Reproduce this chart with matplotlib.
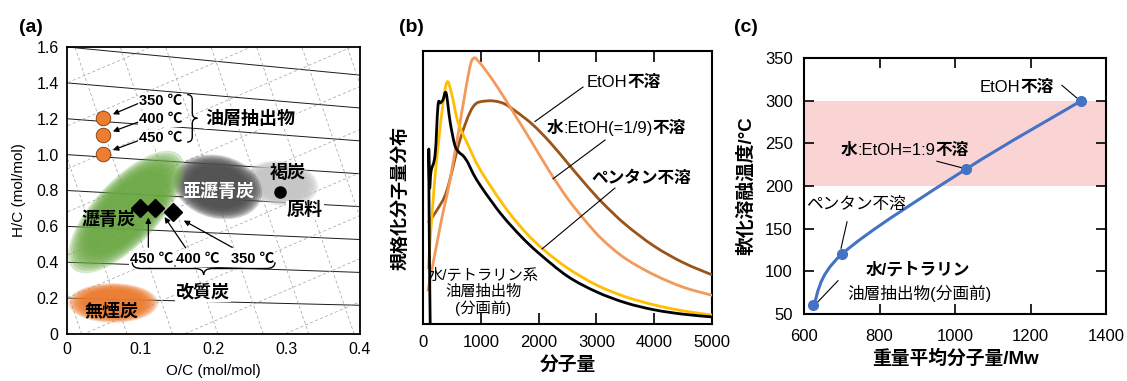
import numpy as np
import matplotlib
matplotlib.use("Agg")
import matplotlib.pyplot as plt
import matplotlib.transforms as mtransforms
from matplotlib.patches import Ellipse, PathPatch
from matplotlib.path import Path
from matplotlib.offsetbox import TextArea, HPacker, AnnotationBbox

plt.rcParams['font.family'] = ['Liberation Sans', 'Noto Sans CJK JP', 'DejaVu Sans']
plt.rcParams['axes.unicode_minus'] = False

# ---------------- data (a) : H/C vs O/C
oil_oc = [0.049, 0.049, 0.049]
oil_hc = [1.204, 1.109, 1.005]
oil_temps = ['350 ℃', '400 ℃', '450 ℃']
upg_oc = [0.145, 0.120, 0.100]
upg_hc = [0.680, 0.705, 0.705]
upg_temps = ['350 ℃', '400 ℃', '450 ℃']
raw_oc = [0.291]
raw_hc = [0.790]
# coal regions: centre O/C, centre H/C, width, height, angle
coal_names = ['褐炭', '亜瀝青炭', '瀝青炭', '無煙炭']
coal_oc = [0.293, 0.206, 0.081, 0.063]
coal_hc = [0.840, 0.820, 0.680, 0.173]
coal_w = [0.41, 0.50, 0.87, 0.50]
coal_h = [0.25, 0.35, 0.36, 0.22]
coal_ang = [-8, -14, 47, 0]
coal_col = ['#c4c4c4', '#4d4d4d', '#6aa843', '#ec7a2e']
hv_levels = [0.2, 0.4, 0.6, 0.8, 1.0, 1.2, 1.4, 1.6, 1.8, 2.0]

# ---------------- data (b) : molecular weight distribution
mw_orig = [125, 110, 100, 115, 140, 210, 260, 300, 345, 400, 470, 550, 620, 700,
           780, 870, 1000, 1200, 1400, 1700, 2000, 2500, 3000, 3500, 4000, 4500, 5000]
dist_orig = [0.0, 0.30, 0.64, 0.50, 0.56, 0.62, 0.80, 0.81, 0.82, 0.846, 0.74, 0.656,
             0.63, 0.615, 0.59, 0.55, 0.505, 0.445, 0.39, 0.32, 0.26, 0.175, 0.118,
             0.078, 0.052, 0.036, 0.026]
mw_pent = [90, 200, 330, 415, 500, 605, 780, 950, 1200, 1500, 1800, 2100, 2500,
           3000, 3500, 4000, 4500, 5000]
dist_pent = [0.20, 0.52, 0.78, 0.886, 0.84, 0.74, 0.656, 0.58, 0.495, 0.405, 0.33,
             0.27, 0.205, 0.143, 0.10, 0.07, 0.048, 0.033]
mw_we = [85, 300, 470, 675, 810, 880, 950, 1100, 1300, 1600, 1900, 2200, 2500, 2800,
         3100, 3500, 4000, 4500, 5000]
dist_we = [0.12, 0.36, 0.53, 0.78, 0.94, 0.974, 0.965, 0.925, 0.864, 0.763, 0.66,
           0.555, 0.46, 0.38, 0.31, 0.24, 0.18, 0.135, 0.105]
mw_etoh = [90, 250, 415, 640, 865, 1100, 1370, 1600, 1900, 2200, 2500, 2800, 3100,
           3500, 4000, 4500, 5000]
dist_etoh = [0.37, 0.42, 0.49, 0.674, 0.795, 0.817, 0.81, 0.78, 0.73, 0.665, 0.59,
             0.515, 0.445, 0.365, 0.285, 0.225, 0.18]

# ---------------- data (c) : softening temperature vs Mw
mw_avg = [625, 700, 1030, 1335]
soft_temp = [60, 120, 220, 300]
temp_band = [200, 300]


def smooth_path(xs, ys):
    # catmull-rom through the points, drawn as bezier segments
    p = np.column_stack([xs, ys]).astype(float)
    pp = np.vstack([p[0], p, p[-1]])
    verts = [p[0]]
    codes = [Path.MOVETO]
    for i in range(1, len(pp) - 2):
        c1 = pp[i] + (pp[i + 1] - pp[i - 1]) / 6.0
        c2 = pp[i + 1] - (pp[i + 2] - pp[i]) / 6.0
        verts += [c1, c2, pp[i + 1]]
        codes += [Path.CURVE4] * 3
    return Path(verts, codes)


def brace(ax, a0, a1, b, depth, e, vertical=False, lw=1.0):
    m = 0.5 * (a0 + a1)
    h = b + depth / 2.0
    pts = [(a0, b), (a0, h), (a0 + e, h), (m - e, h), (m, h), (m, b + depth),
           (m, h), (m + e, h), (a1 - e, h), (a1, h), (a1, b)]
    codes = [Path.MOVETO, Path.CURVE3, Path.CURVE3, Path.LINETO, Path.CURVE3,
             Path.CURVE3, Path.CURVE3, Path.CURVE3, Path.LINETO, Path.CURVE3, Path.CURVE3]
    if vertical:
        pts = [(q, r) for r, q in pts]
    ax.add_patch(PathPatch(Path(pts, codes), fill=False, lw=lw, color='black', zorder=6))


def mixed(ax, x, y, parts, size):
    kids = [TextArea(s, textprops=dict(fontsize=size, fontweight=w)) for s, w in parts]
    box = HPacker(children=kids, align='baseline', pad=0, sep=0)
    ab = AnnotationBbox(box, (x, y), xycoords='data', frameon=False, pad=0,
                        box_alignment=(0.5, 0.5), zorder=6)
    ax.add_artist(ab)


fig = plt.figure(figsize=(11.27, 3.81), dpi=100)
ax_a = fig.add_axes([0.0595, 0.1234, 0.2599, 0.7532])
ax_b = fig.add_axes([0.3753, 0.1496, 0.2565, 0.7165])
ax_c = fig.add_axes([0.7134, 0.1759, 0.2680, 0.6719])

# ================= (a)
ax_a.set_xlim(0, 0.4)
ax_a.set_ylim(0, 1.6)
k = (0.2599 * 1127 / 0.4) / (0.7532 * 381 / 1.6)
ocl = np.array([-0.2, 0.6])
for c in hv_levels:
    slope = (c + 0.28) / 4.8
    ax_a.plot(ocl, c - slope * ocl, color='#1a1a1a', lw=0.7, zorder=1)
for c in np.arange(-1.0, 1.7, 0.24):
    ax_a.plot(ocl, c + 1.75 * ocl, color='#a8a8a8', lw=0.55, ls=(0, (4, 3)), zorder=1)
hcl = np.array([0.0, 1.6])
for c in np.arange(0.02, 0.62, 0.062):
    ax_a.plot(c - hcl / 12.0, hcl, color='#a8a8a8', lw=0.55, ls=(0, (4, 3)), zorder=1)

tr = mtransforms.Affine2D().scale(1.0 / k, 1.0) + ax_a.transData
for i in range(len(coal_names)):
    for j in range(9):
        s = 1.0 - 0.38 * j / 9
        ax_a.add_patch(Ellipse((coal_oc[i] * k, coal_hc[i]), coal_w[i] * s, coal_h[i] * s,
                               angle=coal_ang[i], facecolor=coal_col[i], edgecolor='none',
                               alpha=0.28, transform=tr, zorder=2 + 0.1 * i))

ax_a.plot(oil_oc, oil_hc, 'o', ms=10.5, color='#ed7d31', mec='#7a3a10', mew=0.6, zorder=7)
ax_a.plot(upg_oc, upg_hc, 'D', ms=9, color='black', zorder=7)
ax_a.plot(raw_oc, raw_hc, 'o', ms=8, color='black', zorder=7)

wb = dict(facecolor='white', edgecolor='none', pad=0.6)
for i, t in enumerate(oil_temps):
    ty = [1.300, 1.196, 1.092][i]
    ax_a.text(0.128, ty, t, fontsize=10.5, fontweight='bold', ha='center', va='center',
              bbox=wb, zorder=6)
    ax_a.annotate('', xy=(oil_oc[i] + 0.010, oil_hc[i] + 0.015), xytext=(0.1, ty - 0.01),
                  arrowprops=dict(arrowstyle='-|>', lw=0.9, color='black', mutation_scale=8),
                  zorder=6)
brace(ax_a, 1.07, 1.335, 0.164, 0.014, 0.03, vertical=True)
ax_a.text(0.25, 1.195, '油層抽出物', fontsize=13, fontweight='bold', ha='center', va='center',
          bbox=wb, zorder=6)

for i, (t, tx) in enumerate(zip(upg_temps, [0.253, 0.179, 0.115])):
    ax_a.text(tx, 0.42, t, fontsize=10.5, fontweight='bold', ha='center', va='center',
              bbox=wb, zorder=6)
starts = [(0.229, 0.475), (0.164, 0.468), (0.111, 0.468)]
for i in range(3):
    ax_a.annotate('', xy=(upg_oc[i] + 0.011, upg_hc[i] - 0.04), xytext=starts[i],
                  arrowprops=dict(arrowstyle='-|>', lw=0.9, color='black', mutation_scale=8),
                  zorder=6)
brace(ax_a, 0.089, 0.284, 0.40, -0.07, 0.012)
ax_a.text(0.186, 0.228, '改質炭', fontsize=13, fontweight='bold', ha='center', va='center',
          bbox=wb, zorder=6)
ax_a.text(0.056, 0.635, '瀝青炭', fontsize=13, fontweight='bold', ha='center', va='center', zorder=6)
ax_a.text(0.061, 0.123, '無煙炭', fontsize=13, fontweight='bold', ha='center', va='center', zorder=6)
ax_a.text(0.206, 0.79, '亜瀝青炭', fontsize=13, fontweight='bold', color='white',
          ha='center', va='center', zorder=6)
ax_a.text(0.302, 0.897, '褐炭', fontsize=13, fontweight='bold', ha='center', va='center', zorder=6)
ax_a.text(0.325, 0.69, '原料', fontsize=13, fontweight='bold', ha='center', va='center',
          bbox=wb, zorder=6)

ax_a.set_xticks([0, 0.1, 0.2, 0.3, 0.4])
ax_a.set_xticklabels(['0', '0.1', '0.2', '0.3', '0.4'])
ax_a.set_yticks([0, 0.2, 0.4, 0.6, 0.8, 1.0, 1.2, 1.4, 1.6])
ax_a.set_yticklabels(['0', '0.2', '0.4', '0.6', '0.8', '1.0', '1.2', '1.4', '1.6'])
ax_a.tick_params(length=0, labelsize=11.5, pad=6)
ax_a.set_xlabel('O/C (mol/mol)', fontsize=11)
ax_a.xaxis.set_label_coords(0.5, -0.105)
ax_a.set_ylabel('H/C (mol/mol)', fontsize=11)
ax_a.yaxis.set_label_coords(-0.14, 0.5)
for sp in ax_a.spines.values():
    sp.set_linewidth(1.3)
    sp.set_zorder(8)

# ================= (b)
ax_b.set_xlim(0, 5000)
ax_b.set_ylim(0, 1.0)
curves = [(mw_etoh, dist_etoh, '#9a5418'), (mw_we, dist_we, '#f29a5c'),
          (mw_pent, dist_pent, '#ffbf00'), (mw_orig, dist_orig, 'black')]
for xs, ys, col in curves:
    ax_b.add_patch(PathPatch(smooth_path(xs, ys), fill=False, lw=2.0, color=col,
                             joinstyle='round', zorder=3))
ax_b.plot([2768, 1938], [0.868, 0.742], color='black', lw=0.8, zorder=4)
ax_b.plot([3150, 2250], [0.674, 0.532], color='black', lw=0.8, zorder=4)
ax_b.plot([3320, 2060], [0.498, 0.275], color='black', lw=0.8, zorder=4)
mixed(ax_b, 3478, 0.883, [('EtOH', 'normal'), ('不溶', 'bold')], 12)
mixed(ax_b, 3339, 0.718, [('水', 'bold'), (':EtOH(=1/9)', 'normal'), ('不溶', 'bold')], 12)
ax_b.text(3770, 0.535, 'ペンタン不溶', fontsize=12, fontweight='bold', ha='center', va='center')
ax_b.text(1040, 0.115, '水/テトラリン系\n油層抽出物\n(分画前)', fontsize=11, ha='center',
          va='center', linespacing=1.15)
ax_b.set_xticks([0, 1000, 2000, 3000, 4000, 5000])
ax_b.set_yticks([])
ax_b.tick_params(direction='in', top=True, length=8, width=1.2, labelsize=12, pad=8)
ax_b.set_xlabel('分子量', fontsize=13.5, fontweight='bold')
ax_b.xaxis.set_label_coords(0.5, -0.118)
ax_b.set_ylabel('規格化分子量分布', fontsize=13, fontweight='bold')
ax_b.yaxis.set_label_coords(-0.045, 0.46)
for sp in ax_b.spines.values():
    sp.set_linewidth(1.5)

# ================= (c)
ax_c.set_xlim(600, 1400)
ax_c.set_ylim(50, 350)
ax_c.axhspan(temp_band[0], temp_band[1], color='#fad4d4', lw=0, zorder=0)
ax_c.add_patch(PathPatch(smooth_path(mw_avg, soft_temp), fill=False, lw=2.2,
                         color='#4472c4', zorder=3))
ax_c.plot(mw_avg, soft_temp, 'o', ms=7, color='#4472c4', zorder=4)
ax_c.plot([1283, 1323], [318, 303], color='black', lw=0.8)
ax_c.plot([952, 1021], [229, 221], color='black', lw=0.8)
ax_c.plot([714, 698], [158, 127], color='black', lw=0.8)
ax_c.plot([690, 632], [89, 62], color='black', lw=0.8)
mixed(ax_c, 1164, 316, [('EtOH', 'normal'), ('不溶', 'bold')], 12)
mixed(ax_c, 867, 242, [('水', 'bold'), (':EtOH=1:9', 'normal'), ('不溶', 'bold')], 12)
ax_c.text(738, 178, 'ペンタン不溶', fontsize=12, ha='center', va='center')
ax_c.text(902, 101.5, '水/テトラリン', fontsize=12, fontweight='bold', ha='center', va='center')
ax_c.text(905, 74.5, '油層抽出物(分画前)', fontsize=12, ha='center', va='center')
ax_c.set_xticks([600, 800, 1000, 1200, 1400])
ax_c.set_yticks([50, 100, 150, 200, 250, 300, 350])
ax_c.tick_params(direction='in', top=True, right=True, length=7, width=1.2,
                 labelsize=12, pad=8)
ax_c.tick_params(axis='x', pad=11)
ax_c.set_xlabel('重量平均分子量/Mw', fontsize=13.5, fontweight='bold')
ax_c.xaxis.set_label_coords(0.5, -0.14)
ax_c.set_ylabel('軟化溶融温度/°C', fontsize=13.5, fontweight='bold')
ax_c.yaxis.set_label_coords(-0.16, 0.5)
for sp in ax_c.spines.values():
    sp.set_linewidth(1.5)

fig.text(0.0275, 0.929, '(a)', fontsize=14, fontweight='bold', ha='center', va='center')
fig.text(0.365, 0.929, '(b)', fontsize=14, fontweight='bold', ha='center', va='center')
fig.text(0.662, 0.929, '(c)', fontsize=14, fontweight='bold', ha='center', va='center')

fig.savefig('out.png', dpi=100, facecolor='white')
